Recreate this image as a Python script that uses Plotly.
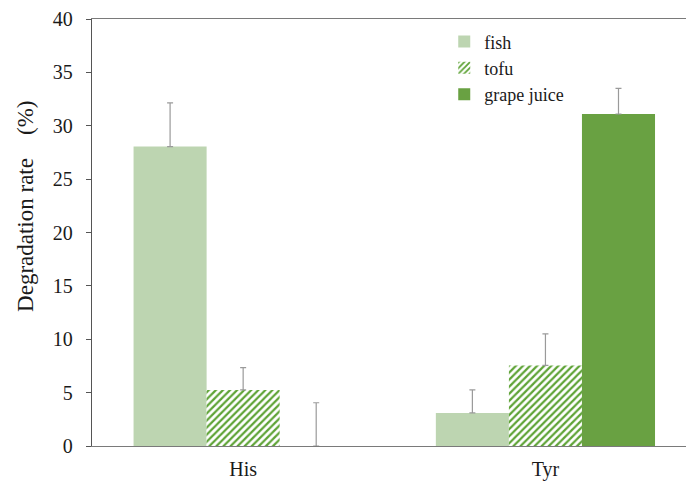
import plotly.graph_objects as go

categories = ["His", "Tyr"]
fish = [28.05, 3.1]
fish_err = [4.1, 2.15]
tofu = [5.25, 7.55]
tofu_err = [2.1, 2.95]
grape_juice = [0.0, 31.1]
grape_juice_err = [4.05, 2.4]

err_style = dict(type="data", symmetric=False, arrayminus=[0, 0],
                 color="#9a9a9a", thickness=1.2, width=3)

fig = go.Figure()
fig.add_trace(go.Bar(
    name="fish", x=categories, y=fish,
    marker=dict(color="#bdd5b1", line=dict(width=0)),
    error_y=dict(array=fish_err, **err_style),
))
fig.add_trace(go.Bar(
    name="tofu", x=categories, y=tofu,
    marker=dict(color="#5ea336", line=dict(width=0),
                pattern=dict(shape="/", fgcolor="#5ea336", bgcolor="white",
                             size=5, solidity=0.45, fillmode="replace")),
    error_y=dict(array=tofu_err, **err_style),
))
fig.add_trace(go.Bar(
    name="grape juice", x=categories, y=grape_juice,
    marker=dict(color="#69a142", line=dict(width=0)),
    error_y=dict(array=grape_juice_err, **err_style),
))

serif = "Liberation Serif"
fig.update_layout(
    width=686, height=481,
    margin=dict(l=92, r=0, t=19, b=35, autoexpand=False),
    plot_bgcolor="white", paper_bgcolor="white",
    barmode="group", bargap=0.275, bargroupgap=0,
    font=dict(family=serif, size=18, color="#1a1a1a"),
    showlegend=True,
    legend=dict(x=0.593, y=0.99, xanchor="left", yanchor="top",
                bgcolor="rgba(0,0,0,0)", font=dict(size=18, family=serif),
                tracegroupgap=0),
    xaxis=dict(range=[-0.5, 1.465], showline=True, linecolor="#7a7a7a",
               linewidth=1.3, mirror=True, ticks="", showgrid=False,
               tickfont=dict(size=20, family=serif), ticklabelstandoff=5,
               zeroline=False, automargin=False),
    yaxis=dict(range=[0, 40], dtick=5, showline=True, linecolor="#555555",
               linewidth=1.3, ticks="outside", ticklen=5, tickcolor="#555555",
               showgrid=False, zeroline=False, ticklabelstandoff=9,
               tickfont=dict(size=20, family=serif), automargin=False),
    annotations=[dict(
        text="Degradation rate\u3000(%)", textangle=-90,
        xref="paper", yref="paper", x=-0.112, y=0.561,
        xanchor="center", yanchor="middle", showarrow=False,
        font=dict(size=23, family=serif, color="#1a1a1a"),
    )],
)

fig.write_html("out.html")
